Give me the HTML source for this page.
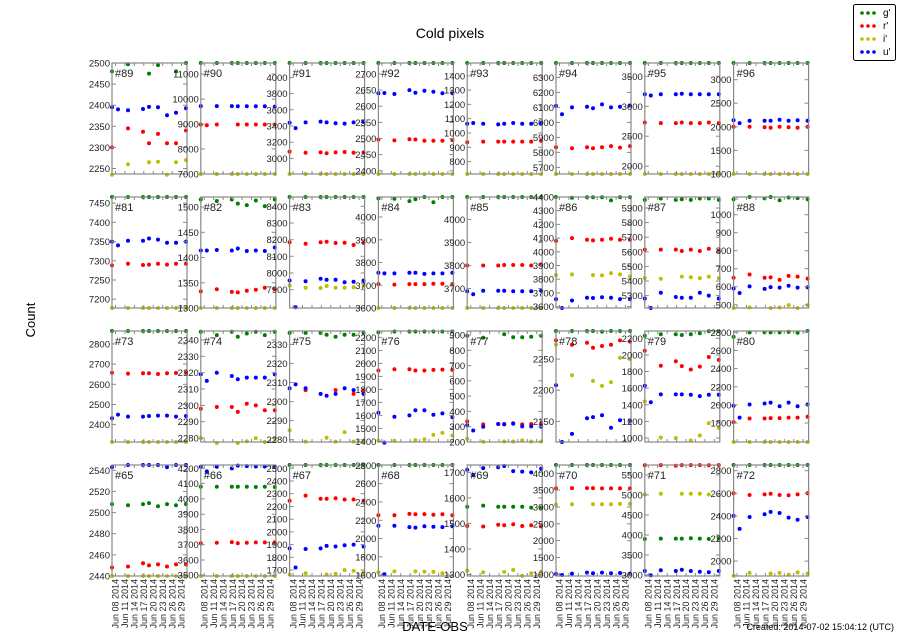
<!DOCTYPE html>
<html><head><meta charset="utf-8"><style>
body{margin:0;background:#fff}
svg{display:block;font-family:"Liberation Sans",sans-serif}
</style></head><body>
<svg id="s" width="900" height="641" viewBox="0 0 900 641" xmlns="http://www.w3.org/2000/svg">
<rect width="900" height="641" fill="#fff"/>
<text x="450" y="38" font-size="14" text-anchor="middle">Cold pixels</text>
<text x="35" y="320" font-size="13" text-anchor="middle" transform="rotate(-90 35 320)">Count</text>
<text x="435" y="631" font-size="13" text-anchor="middle">DATE-OBS</text>
<text x="894" y="630" font-size="9" text-anchor="end">Created: 2014-07-02 15:04:12 (UTC)</text>
<rect x="853.5" y="4.5" width="42" height="56" fill="#fff" stroke="#000" stroke-width="1" rx="2"/>
<g font-size="10">
<circle cx="862" cy="13" r="1.8" fill="#008000"/><circle cx="868" cy="13" r="1.8" fill="#008000"/><circle cx="874" cy="13" r="1.8" fill="#008000"/><text x="883" y="16">g'</text>
<circle cx="862" cy="26" r="1.8" fill="#f00"/><circle cx="868" cy="26" r="1.8" fill="#f00"/><circle cx="874" cy="26" r="1.8" fill="#f00"/><text x="883" y="29">r'</text>
<circle cx="862" cy="39" r="1.8" fill="#bfbf00"/><circle cx="868" cy="39" r="1.8" fill="#bfbf00"/><circle cx="874" cy="39" r="1.8" fill="#bfbf00"/><text x="883" y="42">i'</text>
<circle cx="862" cy="52" r="1.8" fill="#00f"/><circle cx="868" cy="52" r="1.8" fill="#00f"/><circle cx="874" cy="52" r="1.8" fill="#00f"/><text x="883" y="55">u'</text>
</g>
<g id="p"></g>
</svg>
<script>
var X=[0,6,16,31,37,46,55,64,74];
var N=null;
var P=[
["#89",2500,2237,2250,50,[2480,N,2497,N,2475,2495,N,2480,2500],[2300,N,2345,2337,2310,2332,2310,2310,2340],[2235,N,2260,N,2265,2266,2235,2265,2270],[2395,2390,2388,2391,2396,2395,2376,2382,2393]],
["#90",11444,7000,7000,1000,"t",[8980,8950,8980,N,8980,8980,8980,8980,8980],"b",[9720,N,9720,9720,9710,9710,9710,9710,9700]],
["#91",4178,2808,3000,200,"t",[3085,N,3070,3075,3065,3075,3080,3070,3075],"b",[3440,3375,3445,3455,3445,3435,3430,3445,3450]],
["#92",2734,2390,2400,50,"t",[2497,N,2494,2498,2497,2493,2493,2493,2495],"b",[2640,2641,2638,2650,2642,2648,2645,2640,2640]],
["#93",1490,713,800,100,"t",[935,N,940,940,940,940,940,940,945],"b",[1065,1070,1065,1060,1065,1070,1065,1065,1070]],
["#94",6396,5656,5700,100,"t",[5835,N,5828,5835,5828,5835,5842,5832,5842],"b",[6110,6055,6100,6105,6095,6120,6100,6105,6110]],
["#95",3722,1870,2000,500,"t",[2730,N,2720,2720,2730,2720,2720,2730,2720],"b",[3200,3180,3200,3200,3210,3200,3200,3200,3200]],
["#96",3353,1000,1000,500,"t",[2000,N,2000,1990,1980,2000,1990,1980,2000],"b",[2140,2080,2130,2130,2130,2150,2130,2140,2130]],
["#81",7466,7177,7200,50,"t",[7288,N,7292,7289,7290,7292,7290,7292,7292],"b",[7350,7340,7352,7352,7358,7355,7347,7347,7350]],
["#82",1520,1300,1300,50,[1515,N,1512,1515,1507,1504,1513,1502,1515],[1333,N,1337,1332,1331,1334,1336,1340,1337],"b",[1414,1414,1415,1414,1418,1413,1414,1413,1420]],
["#83",8456,7790,7900,100,"t",[8185,N,8175,8185,8188,8180,8182,8168,8180],[7925,N,7912,7910,7922,7912,7912,7915,7925],[7955,7795,7950,7965,7960,7960,7945,7948,7955]],
["#84",4088,3600,3600,100,[4082,N,4080,4070,4078,4088,4065,4088,4088],[3705,N,3703,3705,3705,3705,3707,3707,3705],"b",[3755,3752,3752,3755,3755,3750,3752,3752,3755]],
["#85",4098,3615,3700,100,"t",[3800,N,3800,3800,3802,3802,3802,3800,3803],"b",[3688,3675,3690,3690,3690,3688,3688,3688,3690]],
["#86",4400,3590,3600,100,[4400,N,4395,4398,4398,4398,4375,4398,4398],[4080,N,4100,4088,4083,4088,4095,4088,4088],[3830,N,3835,N,3830,3828,3845,3835,3820],[3655,3590,3645,3665,3663,3668,3665,3655,3655]],
["#87",5975,5215,5300,100,[5955,N,5965,5955,5960,5955,5965,5965,5955],[5615,N,5615,5615,5605,5615,5605,5620,5605],[5420,N,5415,N,5430,5425,5420,5430,5420],[5280,5215,5320,5290,5285,5285,5320,5300,5280]],
["#88",1098,482,500,100,[1085,N,1098,1090,1098,1080,1095,1092,1085],[650,N,668,650,652,638,660,656,645],[482,N,485,N,482,485,498,482,498],[590,565,602,588,598,595,605,595,597]],
["#73",2864,2314,2400,100,"t",[2657,N,2653,2655,2655,2651,2655,2656,2658],"b",[2432,2450,2440,2440,2443,2445,2445,2440,2443]],
["#74",2345.5,2277.6,2280,10,[2345,N,2343,2345,2342,2344,2345,2343,2345],[2298,N,2299,2299,2296,2301,2300,2297,2297],[2280,N,2277,N,2277,2278,2280,2275,2280],[2319,2315,2320,2318,2316,2317,2317,2317,2319]],
["#75",2337,2278.8,2280,10,[2336,N,2336,2336,2335,2334,2335,2335,2336],[N,N,2306,N,N,2306,N,2304,2306],[2285,N,2279,N,2281,2279,2284,2279,2279],[2307,2309,2307,2304,2303,2304,2307,2306,2304]],
["#76",2249,1395,1400,100,[2240,N,2245,2245,2245,2245,2245,2245,2245],[1945,N,1955,1955,1945,1945,1950,1952,1950],[1405,N,1405,N,1410,1415,1450,1465,1445],[1620,1390,1590,1600,1640,1640,1605,1615,1585]],
["#77",926,200,200,100,[895,N,882,N,905,885,885,888,895],[335,N,315,318,318,322,315,318,322],[220,N,202,N,203,203,210,203,203],[310,275,300,318,315,320,302,302,300]],
["#78",2295,2117,2150,50,[2295,N,2295,2295,2295,2294,2295,2295,2295],[2280,N,2273,2276,2268,2271,2273,2280,2278],[2273,N,2224,N,2215,2207,2213,2252,2250],[2208,2117,2130,2155,2157,2160,2140,2152,2150]],
["#79",2288,952,1000,200,[2230,N,2250,2250,2240,2250,2260,2285,2285],[2050,N,1870,1925,1865,1825,1860,1975,1940],[1440,N,1005,1000,N,970,1030,1180,1120],[1630,1430,1525,1525,1525,1520,1505,1520,1520]],
["#80",2815,1591,1800,200,[2750,N,2800,2800,2800,2800,2805,2795,2815],[1810,N,1850,1850,1855,1855,1860,1860,1870],"bot",[1990,1860,2005,2015,2025,1985,2025,1985,2005]],
["#65",2545,2440,2440,20,[2508,N,2507,2508,2509,2506,2508,2507,2508],[2448,N,2449,2452,2450,2451,2449,2451,2451],"bot",[2543,N,2546,2546,2546,2546,2543,2546,2545]],
["#66",4222,3495,3500,100,[4080,N,4080,4080,4080,4080,4078,4080,4078],[3710,N,3713,3717,3710,3713,3715,3715,3715],"bot",[4210,4180,4210,4200,4218,4215,4212,4212,4210]],
["#67",2526,1653,1700,100,"t",[2245,N,2285,2260,2260,2265,2255,2255,2245],[1665,N,1675,N,1665,1670,1700,1695,1680],[1870,1720,1865,1870,1890,1885,1895,1900,1885]],
["#68",2805,1590,1600,200,"t",[2255,N,2255,2270,2265,2268,2260,2265,2255],[1630,N,1640,N,1640,1638,1635,1620,N],[2140,1610,2140,2125,2120,2135,2130,2125,2135]],
["#69",1729,1294,1300,100,[1565,N,1570,1565,1565,1565,1565,1562,1562],[1490,N,1488,1495,1493,1497,1490,1493,1488],[1315,N,1308,N,1310,1318,1295,1305,1310],[1710,1690,1717,1720,1725,1705,1703,1700,1715]],
["#70",4246,950,1000,500,"t",[3550,N,3560,3560,3560,3550,3550,3550,3550],[3070,N,3080,N,3080,3080,3080,3090,3090],[1010,980,1020,1050,1030,1050,1030,1040,1020]],
["#71",5748,2975,3000,500,[3900,N,3910,3910,3910,3920,3910,3900,3910],[5740,N,5745,5730,5745,5745,5745,5740,5745],[5010,N,5030,N,5030,5030,5030,5010,N],[3100,2990,3120,3100,3130,3100,3080,3070,3100]],
["#72",2850,1868,2000,200,"t",[2600,N,2585,2590,2595,2585,2583,2590,2600],[1870,N,1895,N,1890,1895,1880,1900,1890],[2400,2285,2390,2415,2435,2425,2385,2365,2390]]
];
var cols=["#008000","#f00","#bfbf00","#00f"];
var H=111,W=75,out="";
var dates=["08","11","14","17","20","23","26","29"];
P.forEach(function(p,i){
 var c=i%8,r=Math.floor(i/8);
 var x0=112+c*88.8,y0=63+r*134;
 var hi=p[1],lo=p[2];
 function fy(v){return y0+(hi-v)/(hi-lo)*H;}
 for(var s=0;s<4;s++){
  var d=p[5+s];
  if(typeof d==="string"){var v=(d==="t")?hi:lo;var arr=[];for(var k=0;k<9;k++)arr.push(k==1?N:v);d=arr;}
  d.forEach(function(v,k){ if(v===null)return; var yy=fy(v); if(yy<y0-1)yy=y0; if(yy>y0+H+1)yy=y0+H;
   out+='<circle cx="'+(x0+X[k]).toFixed(1)+'" cy="'+yy.toFixed(1)+'" r="2" fill="'+cols[s]+'"/>';});
 }
 out+='<rect x="'+x0.toFixed(1)+'" y="'+y0+'" width="'+W+'" height="'+H+'" fill="none" stroke="#888" stroke-width="1.2"/>';
 for(var t=p[3];t<=hi+1e-9;t+=p[4]){
  var yy=fy(t); if(yy<y0-0.5||yy>y0+H+0.5)continue;
  out+='<line x1="'+x0.toFixed(1)+'" x2="'+(x0+4).toFixed(1)+'" y1="'+yy.toFixed(1)+'" y2="'+yy.toFixed(1)+'" stroke="#888"/>';
  out+='<line x1="'+(x0+W).toFixed(1)+'" x2="'+(x0+W-4).toFixed(1)+'" y1="'+yy.toFixed(1)+'" y2="'+yy.toFixed(1)+'" stroke="#888"/>';
  out+='<text x="'+(x0-2).toFixed(1)+'" y="'+(yy+3.5).toFixed(1)+'" font-size="9.5" fill="#222" text-anchor="end">'+Math.round(t)+'</text>';
 }
 for(var k=0;k<8;k++){
  var xx=x0+3.5+9.43*k;
  out+='<line x1="'+xx.toFixed(1)+'" x2="'+xx.toFixed(1)+'" y1="'+y0+'" y2="'+(y0+3)+'" stroke="#888"/>';
  out+='<line x1="'+xx.toFixed(1)+'" x2="'+xx.toFixed(1)+'" y1="'+(y0+H)+'" y2="'+(y0+H-3)+'" stroke="#888"/>';
  if(r==3){var ty=y0+H+3;
   out+='<text x="'+(xx+3.2).toFixed(1)+'" y="'+ty+'" font-size="9" fill="#222" text-anchor="end" transform="rotate(-90 '+(xx+3.2).toFixed(1)+' '+ty+')">Jun '+dates[k]+' 2014</text>';}
 }
 out+='<text x="'+(x0+3).toFixed(1)+'" y="'+(y0+14)+'" font-size="11" fill="#222">'+p[0]+'</text>';
});
document.getElementById("p").innerHTML=out;
</script>
</body></html>
